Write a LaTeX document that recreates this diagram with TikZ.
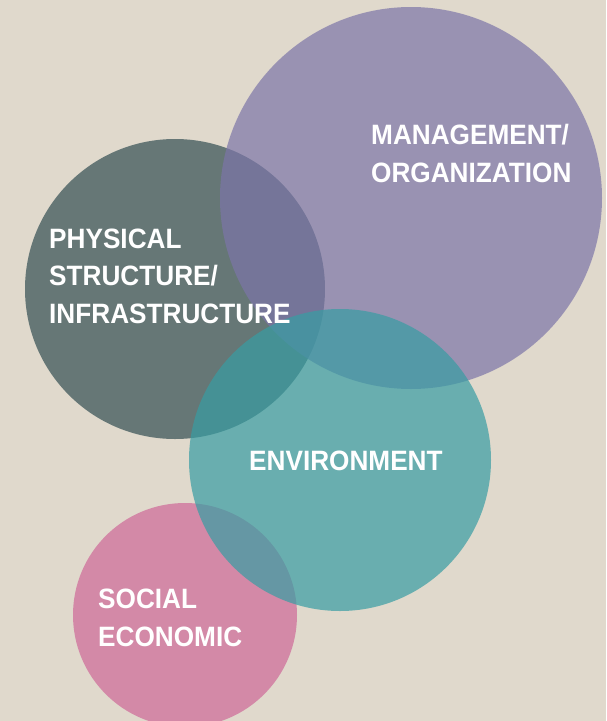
\documentclass[tikz,border=0pt]{standalone}
\usepackage{fontspec}
\setmainfont{Liberation Sans}
\newfontfamily\lblfont[FakeStretch=0.935]{Liberation Sans}
\definecolor{bgc}{RGB}{224,217,204}
\definecolor{darkc}{RGB}{102,119,118}
\definecolor{pinkc}{RGB}{211,137,167}
\definecolor{purplec}{RGB}{124,117,168}
\definecolor{tealc}{RGB}{55,157,163}
\begin{document}
\begin{tikzpicture}[x=1pt,y=-1pt,
  lbl/.style={text=white,font=\lblfont\bfseries\fontsize{28}{37.5}\selectfont,align=left,inner sep=0pt,anchor=base west}]
\useasboundingbox (0,0) rectangle (606,721);
\fill[bgc] (0,0) rectangle (606,721);
\begin{scope}
\clip (0,0) rectangle (606,721);
\fill[darkc] (175,289) circle[radius=150pt];
\fill[pinkc] (185,615) circle[radius=112pt];
\fill[purplec,fill opacity=0.7] (411,198) circle[radius=191pt];
\fill[tealc,fill opacity=0.7] (340,460) circle[radius=151pt];
\end{scope}
\node[lbl] (mgmt) at (371,182) {MANAGEMENT/\\ORGANIZATION};
\node[lbl] (phys) at (49,323) {PHYSICAL\\STRUCTURE/\\INFRASTRUCTURE};
\node[lbl] (env) at (249,470) {ENVIRONMENT};
\node[lbl] (soc) at (98,646) {SOCIAL\\ECONOMIC};
\end{tikzpicture}
\end{document}
